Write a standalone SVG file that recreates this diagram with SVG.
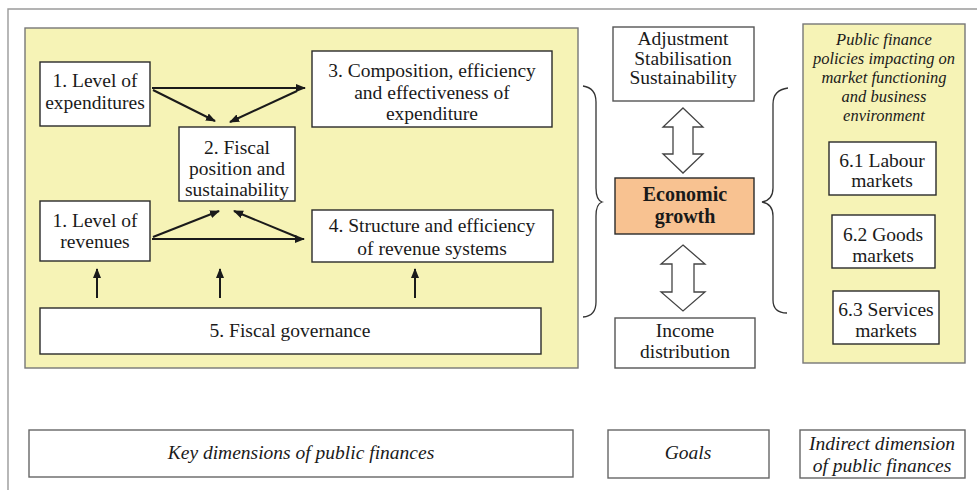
<svg xmlns="http://www.w3.org/2000/svg" width="977" height="490" viewBox="0 0 977 490">
  <defs>
    <style>
      text { font-family: 'Liberation Serif', 'DejaVu Serif', serif; font-size: 19.5px; fill: #1a1a1a; text-anchor: middle; }
      .b { font-weight: bold; font-size: 20px; }
      .i { font-style: italic; }
      .s { font-size: 16.5px; }
      .box { fill: #ffffff; stroke: #2a2a2a; stroke-width: 1.4; }
      .lbl { fill: #ffffff; stroke: #666666; stroke-width: 1.4; }
      .panel { fill: #f6f3b6; stroke: #777777; stroke-width: 1.4; }
      .arr { stroke: #1a1a1a; stroke-width: 2; fill: none; marker-end: url(#head); }
      .brace { stroke: #333333; stroke-width: 1.3; fill: none; }
      .dbl { fill: #ffffff; stroke: #444444; stroke-width: 1.3; }
    </style>
    <marker id="head" viewBox="0 0 10 10" refX="9" refY="5" markerWidth="5" markerHeight="5" orient="auto" markerUnits="strokeWidth">
      <path d="M0,1 L10,5 L0,9 Z" fill="#1a1a1a"/>
    </marker>
  </defs>

  <rect width="977" height="490" fill="#ffffff"/>
  <!-- outer frame -->
  <path d="M8,490 L8,9 L977,9" fill="none" stroke="#9a9a9a" stroke-width="1.4"/>

  <!-- panels -->
  <rect id="panel-key" class="panel" x="25" y="28" width="553" height="340"/>
  <rect id="panel-indirect" class="panel" x="803" y="24" width="162" height="339"/>

  <g font-family="Liberation Serif, DejaVu Serif, serif">
  <g id="exp-level">
    <rect class="box" x="40" y="62" width="110" height="64"/>
    <text x="95" y="87">1. Level of</text>
    <text x="95" y="109">expenditures</text>
  </g>
  <g id="fiscal-position">
    <rect class="box" x="179" y="127" width="116" height="74"/>
    <text x="237" y="154">2. Fiscal</text>
    <text x="237" y="175">position and</text>
    <text x="237" y="196">sustainability</text>
  </g>
  <g id="rev-level">
    <rect class="box" x="40" y="201" width="110" height="60"/>
    <text x="95" y="227">1. Level of</text>
    <text x="95" y="248">revenues</text>
  </g>
  <g id="expenditure-composition">
    <rect class="box" x="312" y="51" width="240" height="76"/>
    <text x="432" y="77">3. Composition, efficiency</text>
    <text x="432" y="99">and effectiveness of</text>
    <text x="432" y="120">expenditure</text>
  </g>
  <g id="revenue-structure">
    <rect class="box" x="312" y="210" width="241" height="52"/>
    <text x="432" y="232">4. Structure and efficiency</text>
    <text x="432" y="255">of revenue systems</text>
  </g>
  <g id="fiscal-governance">
    <rect class="box" x="40" y="308" width="501" height="46"/>
    <text x="290" y="337">5. Fiscal governance</text>
  </g>

  <g id="goal-adjustment">
    <rect class="box" x="613" y="27" width="141" height="74" style="stroke:#555"/>
    <text x="683" y="45">Adjustment</text>
    <text x="683" y="65">Stabilisation</text>
    <text x="683" y="84">Sustainability</text>
  </g>
  <g id="economic-growth">
    <rect x="615" y="178" width="139" height="56" fill="#f8c291" stroke="#2a2a2a" stroke-width="1.4"/>
    <text class="b" x="685" y="201">Economic</text>
    <text class="b" x="685" y="223">growth</text>
  </g>
  <g id="goal-income">
    <rect class="box" x="615" y="318" width="140" height="50" style="stroke:#555"/>
    <text x="685" y="337">Income</text>
    <text x="685" y="358">distribution</text>
  </g>

  <g id="indirect-policies">
    <text class="i s" x="884" y="45">Public finance</text>
    <text class="i s" x="884" y="64">policies impacting on</text>
    <text class="i s" x="884" y="83">market functioning</text>
    <text class="i s" x="884" y="102">and business</text>
    <text class="i s" x="884" y="121">environment</text>
  </g>
  <g id="labour-markets">
    <rect class="box" x="829" y="142" width="107" height="53"/>
    <text x="882" y="167">6.1 Labour</text>
    <text x="882" y="187">markets</text>
  </g>
  <g id="goods-markets">
    <rect class="box" x="832" y="215" width="103" height="53"/>
    <text x="883" y="241">6.2 Goods</text>
    <text x="883" y="262">markets</text>
  </g>
  <g id="services-markets">
    <rect class="box" x="833" y="291" width="106" height="53"/>
    <text x="886" y="316">6.3 Services</text>
    <text x="886" y="337">markets</text>
  </g>

  <g id="label-key">
    <rect class="lbl" x="29" y="430" width="544" height="47"/>
    <text class="i" x="301" y="459">Key dimensions of public finances</text>
  </g>
  <g id="label-goals">
    <rect class="lbl" x="608" y="430" width="161" height="48"/>
    <text class="i" x="688" y="459">Goals</text>
  </g>
  <g id="label-indirect">
    <rect class="lbl" x="800" y="430" width="165" height="48"/>
    <text class="i" x="882" y="450">Indirect dimension</text>
    <text class="i" x="882" y="472">of public finances</text>
  </g>
  </g>

  <g id="connectors">
    <line class="arr" x1="152" y1="88" x2="305" y2="88"/>
    <line class="arr" x1="153" y1="90" x2="215" y2="121"/>
    <line class="arr" x1="297" y1="91" x2="230" y2="122"/>
    <line class="arr" x1="152" y1="239" x2="304" y2="239"/>
    <line class="arr" x1="153" y1="237" x2="219" y2="211"/>
    <line class="arr" x1="297" y1="237" x2="234" y2="211"/>
    <line class="arr" x1="97" y1="298" x2="97" y2="269"/>
    <line class="arr" x1="220" y1="298" x2="220" y2="269"/>
    <line class="arr" x1="415" y1="298" x2="415" y2="269"/>
    <path class="brace" d="M583,86 Q596,88 596,102 L596,188 Q596,200 602,202 Q596,204 596,216 L596,302 Q596,316 583,317"/>
    <path class="brace" d="M788,88 Q773,90 773,104 L773,188 Q773,200 762,202 Q773,204 773,216 L773,300 Q773,313 787,313"/>
    <polygon class="dbl" points="683,108 703,127 693,127 693,154 703,154 683,173 663,154 673,154 673,127 663,127"/>
    <polygon class="dbl" points="683,245 705,264 694,264 694,292 705,292 683,311 661,292 672,292 672,264 661,264"/>
  </g>
</svg>
